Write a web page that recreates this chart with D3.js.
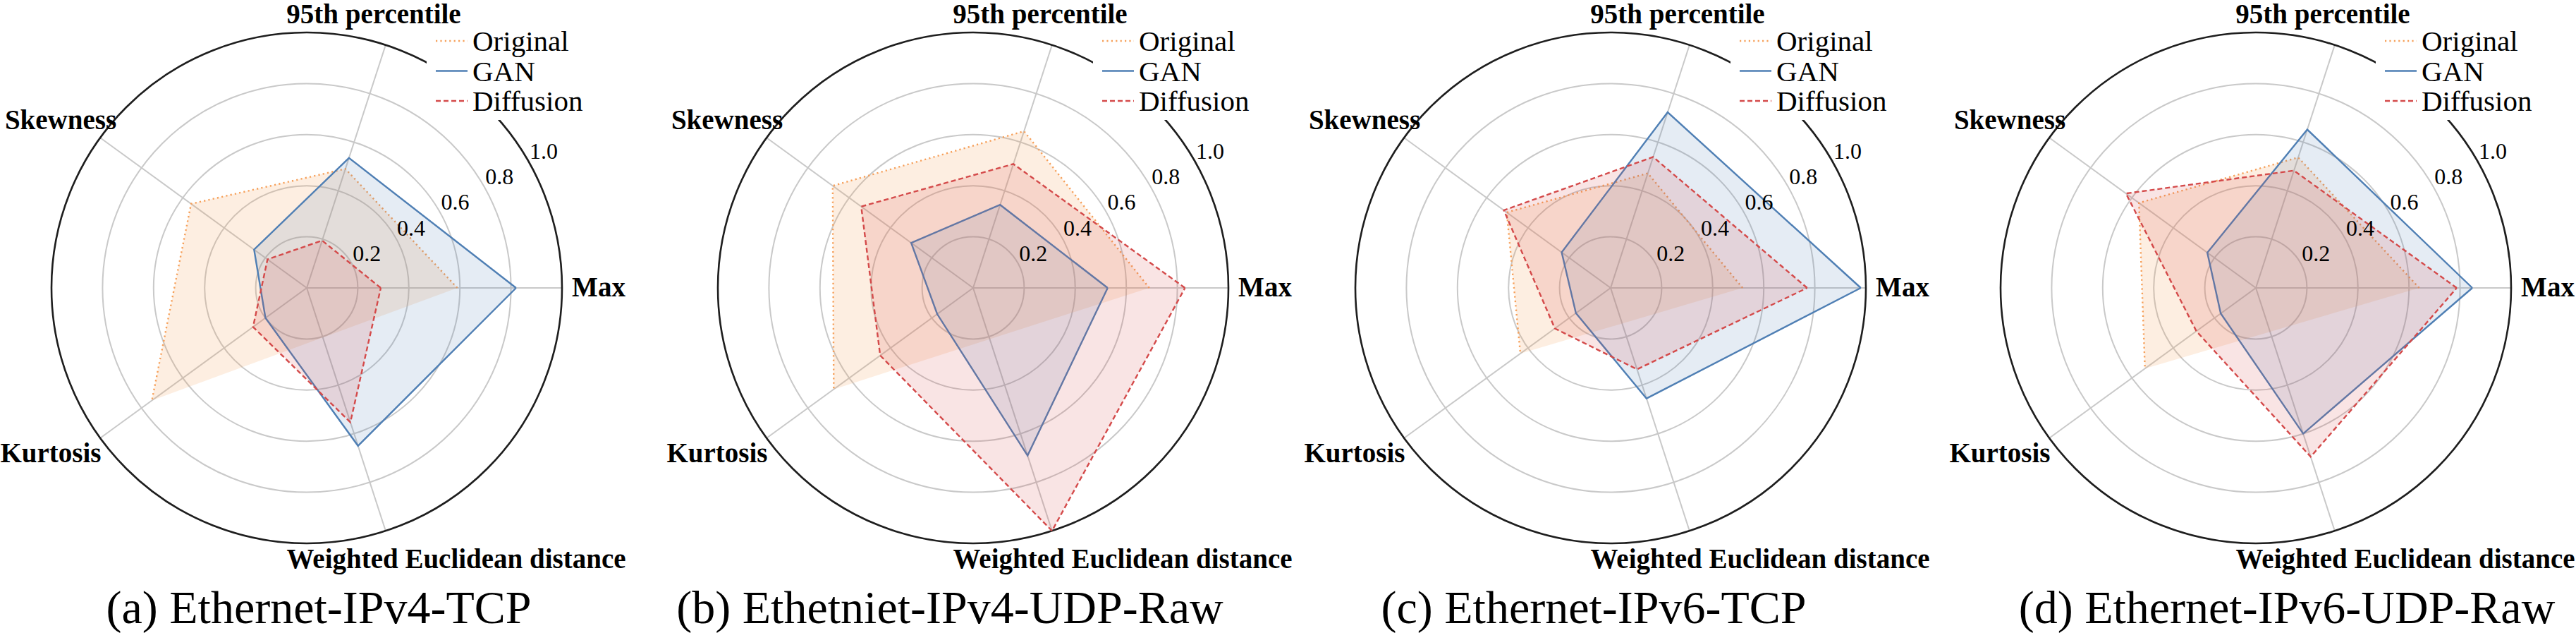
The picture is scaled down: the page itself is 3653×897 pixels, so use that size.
<!DOCTYPE html>
<html lang="en">
<head>
  <meta charset="UTF-8">
  <title>Radar comparison of generated traffic</title>
  <script src="https://d3js.org/d3.v7.min.js"></script>
  <style>
    body { margin: 0; background: #fff; }
  </style>
</head>
<body>
  <svg id="chart"></svg>
  <script>
    // Axis order goes counterclockwise from the right-hand side
    const metrics = ["Max", "95th percentile", "Skewness", "Kurtosis", "Weighted Euclidean distance"];
    const seriesNames = ["Original", "GAN", "Diffusion"];
    const panelTitles = [
      "(a) Ethernet-IPv4-TCP",
      "(b) Ethetniet-IPv4-UDP-Raw",
      "(c) Ethernet-IPv6-TCP",
      "(d) Ethernet-IPv6-UDP-Raw"
    ];
    const radialTicks = [0.2, 0.4, 0.6, 0.8, 1.0];

    // values per panel, in metric order; Original has no distance to itself
    const originalValues = [
      [0.59, 0.49, 0.56, 0.75, null],
      [0.69, 0.645, 0.68, 0.675, null],
      [0.517, 0.472, 0.503, 0.437, null],
      [0.64, 0.537, 0.566, 0.537, null]
    ];
    const ganValues = [
      [0.82, 0.535, 0.255, 0.20, 0.65],
      [0.527, 0.342, 0.30, 0.174, 0.69],
      [0.98, 0.723, 0.237, 0.168, 0.455],
      [0.848, 0.652, 0.235, 0.17, 0.60]
    ];
    const diffusionValues = [
      [0.29, 0.195, 0.19, 0.26, 0.553],
      [0.83, 0.51, 0.542, 0.45, 1.0],
      [0.77, 0.539, 0.517, 0.27, 0.335],
      [0.787, 0.483, 0.629, 0.288, 0.695]
    ];

    const width = 3653, height = 897;
    const centersX = [435, 1380, 2284, 3199], centerY = 408, R = 362;
    const titleX = [452, 1347, 2260, 3243], titleY = 883;
    // label centre x / baseline y, relative to the panel centre
    const labelOffsets = [[414, 12], [95, -375], [-349, -225], [-363, 247], [212, 397]];
    const serif = '"Liberation Serif", "Times New Roman", "DejaVu Serif", serif';

    const styles = {
      Original:  { color: "#f6a05a", fillOpacity: 0.18, width: 2.4, dash: "2.2,4.2" },
      GAN:       { color: "#4f7fb4", fillOpacity: 0.15, width: 2.4, dash: null },
      Diffusion: { color: "#d44a4a", fillOpacity: 0.15, width: 2.4, dash: "7,4" }
    };

    const svg = d3.select("#chart")
      .attr("width", width).attr("height", height)
      .attr("viewBox", [0, 0, width, height])
      .attr("font-family", serif);
    svg.append("rect").attr("width", width).attr("height", height).attr("fill", "#fff");

    const r = d3.scaleLinear().domain([0, 1]).range([0, R]);
    // d3 radial angles are clockwise from 12 o'clock
    const angle = d3.scaleLinear().domain([0, metrics.length]).range([Math.PI / 2, Math.PI / 2 - 2 * Math.PI]);

    const fillPath = d3.lineRadial()
      .angle(d => angle(d.i)).radius(d => r(d.v))
      .curve(d3.curveLinearClosed);
    const linePath = d3.lineRadial()
      .defined(d => d.v != null)
      .angle(d => angle(d.i)).radius(d => r(d.v));

    const gray = "#c9c9c9";

    panelTitles.forEach((title, p) => {
      const cx = centersX[p];
      const g = svg.append("g").attr("transform", `translate(${cx},${centerY})`);

      // grid
      g.selectAll(".ring").data(radialTicks.slice(0, -1)).join("circle")
        .attr("class", "ring").attr("r", d => r(d))
        .attr("fill", "none").attr("stroke", gray).attr("stroke-width", 2);
      g.selectAll(".spoke").data(metrics).join("line")
        .attr("class", "spoke")
        .attr("x2", (d, i) => r(1) * Math.sin(angle(i)))
        .attr("y2", (d, i) => -r(1) * Math.cos(angle(i)))
        .attr("stroke", gray).attr("stroke-width", 2);
      g.append("circle").attr("r", r(1))
        .attr("fill", "none").attr("stroke", "#1e1e1e").attr("stroke-width", 2.6);

      // series
      const seriesData = [originalValues[p], ganValues[p], diffusionValues[p]];
      seriesNames.forEach((name, s) => {
        const st = styles[name];
        const pts = seriesData[s].map((v, i) => ({ i, v }));
        g.append("path")
          .attr("d", fillPath(pts.filter(d => d.v != null)))
          .attr("fill", st.color).attr("fill-opacity", st.fillOpacity).attr("stroke", "none");
        g.append("path")
          .attr("d", linePath(pts.concat([{ i: metrics.length, v: pts[0].v }])))
          .attr("fill", "none").attr("stroke", st.color)
          .attr("stroke-width", st.width)
          .attr("stroke-dasharray", st.dash)
          .attr("stroke-linejoin", "miter");
      });

      // radial tick labels along 30 degrees
      const tickAng = Math.PI / 6;
      g.selectAll(".rtick").data(radialTicks).join("text")
        .attr("class", "rtick")
        .attr("x", d => (r(d) + 26) * Math.cos(tickAng))
        .attr("y", d => -(r(d) + 26) * Math.sin(tickAng) + 11)
        .attr("text-anchor", "middle")
        .attr("font-family", serif)
        .attr("font-size", 32)
        .text(d => d3.format(".1f")(d));

      // legend, with a white box that hides part of the outer ring
      const legend = g.append("g");
      legend.append("rect")
        .attr("x", 170).attr("y", -376).attr("width", 250).attr("height", 138)
        .attr("fill", "#fff");
      seriesNames.forEach((name, s) => {
        const st = styles[name];
        const base = -336 + s * 42.5;
        legend.append("line")
          .attr("x1", 183).attr("x2", 228).attr("y1", base - 14).attr("y2", base - 14)
          .attr("stroke", st.color).attr("stroke-width", st.width)
          .attr("stroke-dasharray", st.dash);
        legend.append("text")
          .attr("x", 235).attr("y", base)
          .attr("font-family", serif)
          .attr("font-size", 41)
          .text(name);
      });

      // axis labels
      g.selectAll(".axis-label").data(metrics).join("text")
        .attr("class", "axis-label")
        .attr("x", (d, i) => labelOffsets[i][0])
        .attr("y", (d, i) => labelOffsets[i][1])
        .attr("text-anchor", "middle")
        .attr("font-family", serif)
        .attr("font-size", 39).attr("font-weight", "bold")
        .text(d => d);

      svg.append("text")
        .attr("x", titleX[p]).attr("y", titleY)
        .attr("text-anchor", "middle")
        .attr("font-family", serif)
        .attr("font-size", 66)
        .text(title);
    });
  </script>
</body>
</html>
